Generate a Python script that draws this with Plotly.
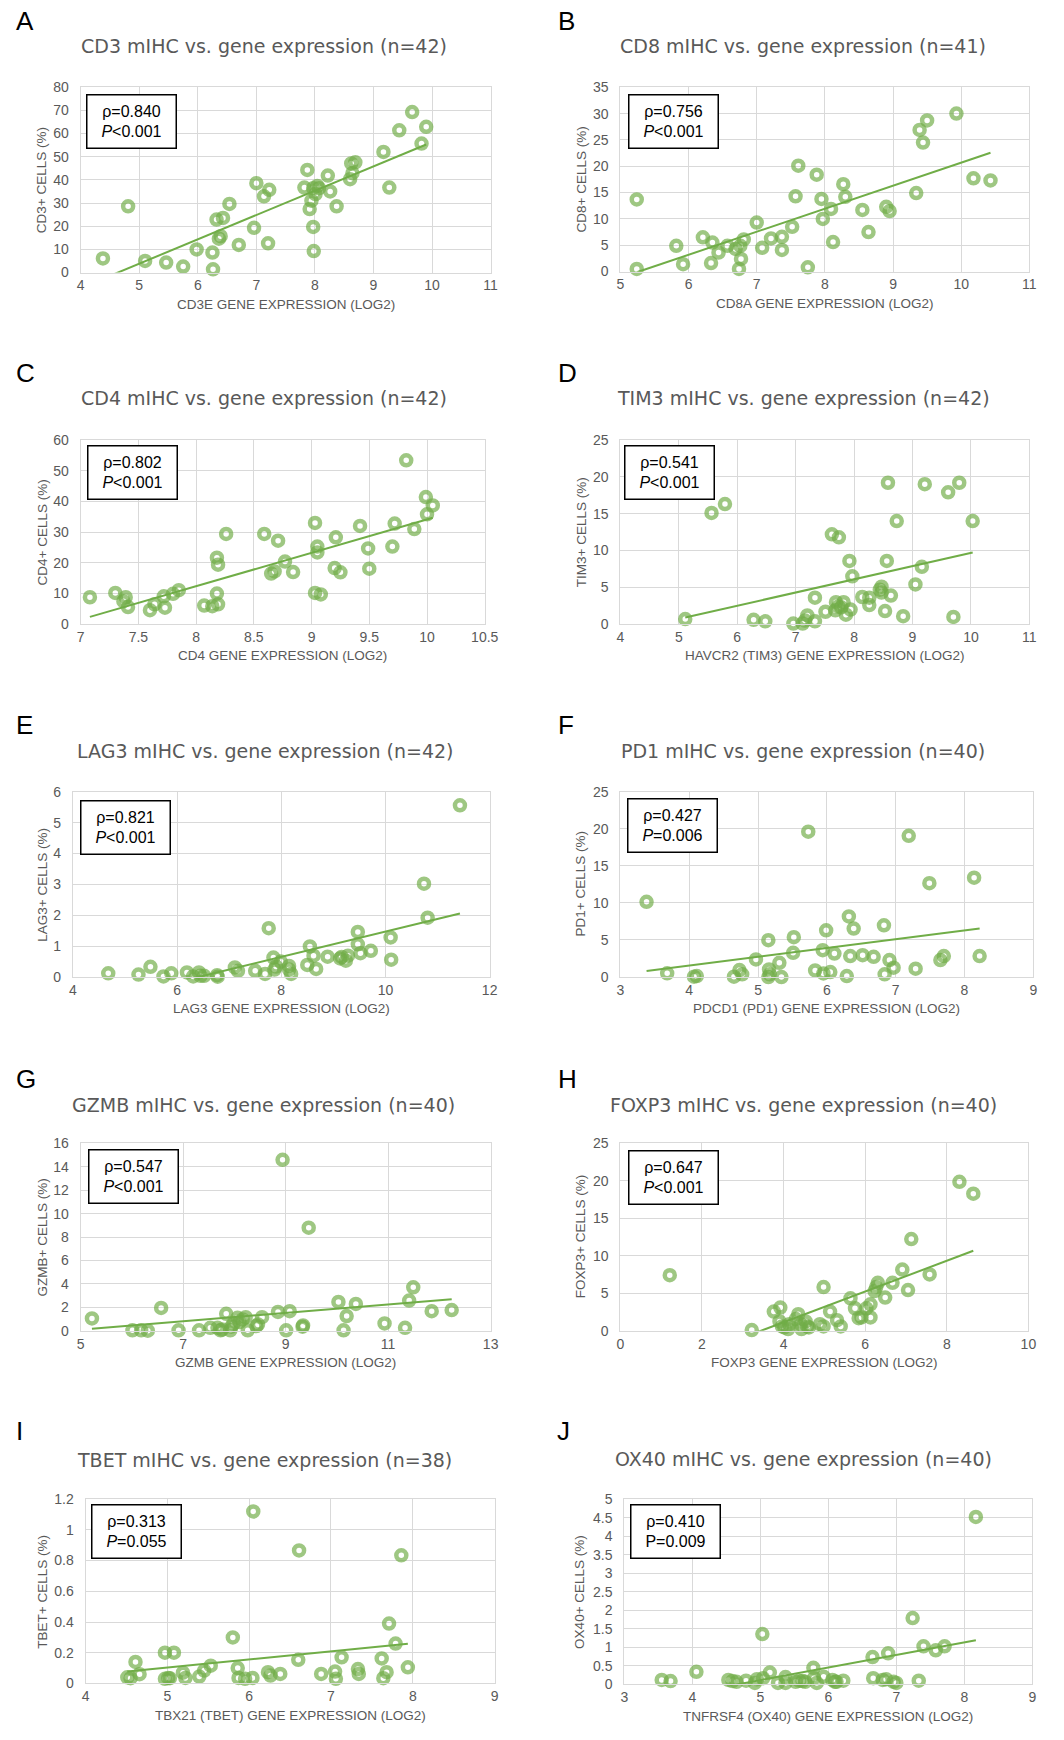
import numpy as np
import plotly.graph_objects as go

# ---------------- data: gene expression (log2) vs. mIHC positive cells (%) ----------------
cd3e_expr = [4.38, 4.81, 5.10, 5.46, 5.75, 5.98, 6.25, 6.26, 6.32, 6.43, 6.36, 6.39, 6.54, 6.70,
             6.96, 7.00, 7.13, 7.22, 7.20, 7.82, 7.87, 7.91, 7.94, 7.97, 7.97, 7.98, 8.01, 8.04,
             8.07, 8.22, 8.26, 8.37, 8.60, 8.62, 8.64, 8.69, 9.17, 9.27, 9.44, 9.66, 9.82, 9.90]
cd3_cells = [6.1, 28.6, 5.0, 4.3, 2.6, 10.0, 8.6, 1.4, 22.9, 23.6, 14.6, 15.7, 29.6, 11.9,
             19.3, 38.6, 32.9, 35.7, 12.6, 36.7, 44.3, 27.4, 31.0, 36.4, 19.7, 9.3, 33.9, 37.4,
             36.4, 41.9, 35.0, 28.6, 40.3, 47.1, 42.9, 47.6, 52.1, 36.7, 61.4, 69.3, 55.7, 62.9]

cd8a_expr = [5.24, 5.24, 5.82, 5.92, 6.21, 6.33, 6.35, 6.44, 6.57, 6.69, 6.76, 6.81, 6.77, 6.74,
             7.00, 7.08, 7.21, 7.37, 7.37, 7.52, 7.57, 7.61, 7.75, 7.88, 7.95, 7.97, 8.09, 8.12,
             8.27, 8.30, 8.55, 8.64, 8.90, 8.95, 9.34, 9.39, 9.44, 9.50, 9.93, 10.18, 10.43]
cd8_cells = [13.7, 0.5, 4.9, 1.4, 6.5, 1.6, 5.5, 3.6, 4.9, 4.3, 4.9, 6.1, 2.4, 0.5,
             9.3, 4.5, 6.3, 6.6, 4.1, 8.5, 14.3, 20.1, 0.8, 18.4, 13.8, 10.0, 11.9, 5.6,
             16.6, 14.2, 11.7, 7.5, 12.3, 11.5, 14.9, 26.9, 24.5, 28.7, 30.0, 17.7, 17.3]

cd4_expr = [7.08, 7.30, 7.39, 7.37, 7.41, 7.60, 7.64, 7.72, 7.73, 7.80, 7.85, 8.07, 8.14, 8.19,
            8.18, 8.18, 8.19, 8.26, 8.59, 8.65, 8.68, 8.71, 8.77, 8.84, 9.03, 9.03, 9.08, 9.05,
            9.05, 9.20, 9.21, 9.25, 9.42, 9.49, 9.50, 9.70, 9.72, 9.82, 9.89, 9.99, 10.00, 10.05]
cd4_cells = [8.8, 10.2, 8.8, 7.5, 5.6, 4.6, 6.5, 9.1, 5.4, 9.9, 11.1, 6.1, 5.9, 6.5,
             10.0, 21.7, 19.4, 29.4, 29.4, 16.5, 17.2, 27.2, 20.4, 17.0, 33.0, 10.2, 9.7, 25.3,
             23.4, 18.3, 28.3, 16.9, 32.0, 24.7, 18.1, 25.3, 32.8, 53.4, 31.0, 41.4, 35.8, 38.7]

havcr2_expr = [5.11, 5.56, 5.79, 6.28, 6.48, 6.96, 7.12, 7.16, 7.20, 7.33, 7.33, 7.51, 7.62, 7.74,
               7.68, 7.69, 7.73, 7.82, 7.86, 7.92, 7.94, 7.97, 8.14, 8.26, 8.26, 8.44, 8.47, 8.53,
               8.56, 8.58, 8.63, 8.73, 8.84, 9.05, 9.16, 9.21, 9.61, 9.70, 9.80, 10.03, 8.47, 7.78]
tim3_cells = [0.7, 15.1, 16.3, 0.6, 0.4, 0.1, 0.1, 0.5, 1.2, 0.4, 3.6, 1.7, 12.2, 11.8,
              1.9, 3.0, 2.4, 3.0, 1.3, 8.6, 2.0, 6.5, 3.7, 3.6, 2.6, 4.7, 5.1, 1.8,
              8.6, 19.2, 3.9, 14.0, 1.1, 5.4, 7.8, 19.0, 17.9, 1.0, 19.2, 14.0, 4.3, 2.3]

lag3_expr = [4.68, 5.26, 5.49, 5.74, 5.89, 6.19, 6.31, 6.42, 6.52, 6.77, 6.78, 7.11, 7.17, 7.50,
             7.69, 7.76, 7.85, 7.87, 7.90, 7.99, 8.15, 8.19, 8.15, 8.50, 8.55, 8.62, 8.67, 8.89,
             9.13, 9.24, 9.28, 9.47, 9.47, 9.52, 9.72, 10.10, 10.11, 10.74, 10.81, 11.43, 6.45, 9.16]
lag3_cells = [0.12, 0.08, 0.33, 0.02, 0.12, 0.15, 0.02, 0.15, 0.04, 0.06, 0.01, 0.31, 0.20, 0.20,
              0.10, 1.58, 0.63, 0.24, 0.34, 0.50, 0.36, 0.10, 0.24, 0.39, 0.99, 0.69, 0.26, 0.66,
              0.60, 0.53, 0.69, 1.46, 1.06, 0.77, 0.85, 1.28, 0.56, 3.02, 1.92, 5.56, 0.04, 0.65]

pdcd1_expr = [3.38, 3.68, 4.07, 4.11, 4.65, 4.73, 4.77, 4.97, 5.15, 5.16, 5.15, 5.31, 5.34, 5.52,
              5.51, 5.73, 5.83, 5.94, 5.95, 5.99, 6.05, 6.11, 6.29, 6.32, 6.34, 6.39, 6.52, 6.68,
              6.83, 6.84, 6.91, 6.97, 7.19, 7.29, 7.49, 7.65, 7.70, 8.14, 8.22, 5.17]
pd1_cells = [10.15, 0.5, 0.05, 0.13, 0.05, 0.94, 0.36, 2.37, 4.96, 1.03, 0.0, 1.92, 0.0, 5.37,
             3.26, 19.6, 0.89, 3.62, 0.49, 6.3, 0.67, 3.17, 0.13, 8.18, 2.82, 6.53, 2.95, 2.73,
             6.98, 0.36, 2.28, 1.25, 19.05, 1.12, 12.66, 2.28, 2.82, 13.4, 2.82, 0.36]

gzmb_expr = [5.22, 6.01, 6.18, 6.31, 6.57, 6.91, 7.31, 7.53, 7.67, 7.73, 7.84, 7.92, 7.94, 8.06,
             8.10, 8.22, 8.26, 8.43, 8.54, 8.85, 8.94, 9.01, 9.08, 9.33, 9.34, 9.45, 10.03, 10.13,
             10.19, 10.37, 10.93, 11.33, 11.41, 11.49, 11.85, 12.24, 7.76, 7.98, 8.16, 8.46]
gzmb_cells = [1.05, 0.03, 0.03, 0.0, 1.95, 0.03, 0.03, 0.25, 0.25, 0.03, 1.44, 0.03, 0.34, 1.10,
              0.74, 1.16, 0.03, 0.40, 1.16, 1.61, 14.6, 0.03, 1.67, 0.34, 0.45, 8.8, 2.46, 0.03,
              1.25, 2.29, 0.62, 0.25, 2.58, 3.71, 1.67, 1.76, 0.10, 0.60, 0.96, 0.54]

foxp3_expr = [1.21, 3.22, 3.76, 3.92, 3.90, 3.96, 4.02, 4.11, 4.36, 4.30, 4.42, 4.44, 4.54, 4.58,
              4.62, 4.89, 4.98, 4.98, 5.14, 5.31, 5.40, 5.64, 5.75, 5.84, 6.03, 6.13, 6.13, 6.27,
              6.31, 6.49, 6.67, 6.91, 7.05, 7.13, 7.58, 8.31, 8.65, 5.91, 4.14, 6.23]
foxp3_cells = [7.42, 0.09, 2.56, 3.09, 1.24, 0.57, 0.44, 0.22, 2.21, 1.55, 0.88, 0.22, 1.24, 0.57,
               0.44, 0.88, 5.83, 0.57, 2.56, 1.41, 0.57, 4.33, 3.0, 1.68, 3.0, 3.53, 1.77, 5.83,
               6.4, 4.42, 6.4, 8.17, 5.43, 12.23, 7.51, 19.88, 18.29, 1.77, 0.88, 5.3]

tbx21_expr = [4.51, 4.55, 4.61, 4.66, 4.97, 5.08, 4.97, 5.01, 5.03, 5.19, 5.22, 5.39, 5.45, 5.53,
              5.80, 5.86, 5.87, 5.95, 6.04, 6.05, 6.23, 6.26, 6.38, 6.61, 6.60, 6.88, 7.05, 7.06,
              7.13, 7.33, 7.34, 7.62, 7.64, 7.68, 7.71, 7.79, 7.86, 7.94]
tbet_cells = [0.04, 0.034, 0.14, 0.06, 0.20, 0.20, 0.03, 0.036, 0.034, 0.07, 0.036, 0.045, 0.084, 0.116,
              0.30, 0.10, 0.036, 0.03, 0.036, 1.12, 0.073, 0.051, 0.062, 0.866, 0.154, 0.062, 0.077, 0.03,
              0.17, 0.094, 0.062, 0.163, 0.034, 0.073, 0.39, 0.26, 0.834, 0.105]

tnfrsf4_expr = [3.55, 3.68, 4.06, 4.53, 4.65, 4.79, 4.92, 5.03, 5.04, 5.14, 5.26, 5.37, 5.37, 5.52,
                5.62, 5.66, 5.78, 5.79, 5.83, 5.93, 6.06, 6.12, 6.22, 6.65, 6.66, 6.80, 6.88, 6.96,
                7.00, 7.24, 7.33, 7.40, 7.58, 7.71, 8.17, 4.59, 4.95, 5.57, 6.10, 6.85]
ox40_cells = [0.12, 0.09, 0.34, 0.12, 0.07, 0.10, 0.04, 1.36, 0.17, 0.32, 0.04, 0.20, 0.04, 0.07,
              0.09, 0.07, 0.45, 0.17, 0.04, 0.21, 0.12, 0.07, 0.10, 0.74, 0.17, 0.12, 0.84, 0.07,
              0.04, 1.79, 0.10, 1.03, 0.92, 1.03, 4.52, 0.09, 0.14, 0.10, 0.07, 0.14]

panel_letters = ["A", "B", "C", "D", "E", "F", "G", "H", "I", "J"]
panel_titles = ["CD3 mIHC vs. gene expression (n=42)", "CD8 mIHC vs. gene expression (n=41)",
                "CD4 mIHC vs. gene expression (n=42)", "TIM3 mIHC vs. gene expression (n=42)",
                "LAG3 mIHC vs. gene expression (n=42)", "PD1 mIHC vs. gene expression (n=40)",
                "GZMB mIHC vs. gene expression (n=40)", "FOXP3 mIHC vs. gene expression (n=40)",
                "TBET mIHC vs. gene expression (n=38)", "OX40 mIHC vs. gene expression (n=40)"]
x_titles = ["CD3E GENE EXPRESSION (LOG2)", "CD8A GENE EXPRESSION (LOG2)", "CD4 GENE EXPRESSION (LOG2)",
            "HAVCR2 (TIM3) GENE EXPRESSION (LOG2)", "LAG3 GENE EXPRESSION (LOG2)",
            "PDCD1 (PD1) GENE EXPRESSION (LOG2)", "GZMB GENE EXPRESSION (LOG2)",
            "FOXP3 GENE EXPRESSION (LOG2)", "TBX21 (TBET) GENE EXPRESSION (LOG2)",
            "TNFRSF4 (OX40) GENE EXPRESSION (LOG2)"]
y_titles = ["CD3+ CELLS (%)", "CD8+ CELLS (%)", "CD4+ CELLS (%)", "TIM3+ CELLS (%)", "LAG3+ CELLS (%)",
            "PD1+ CELLS (%)", "GZMB+ CELLS (%)", "FOXP3+ CELLS (%)", "TBET+ CELLS (%)", "OX40+ CELLS (%)"]
rho_values = ["0.840", "0.756", "0.802", "0.541", "0.821", "0.427", "0.547", "0.647", "0.313", "0.410"]
p_values = ["<0.001", "<0.001", "<0.001", "<0.001", "<0.001", "=0.006", "<0.001", "<0.001", "=0.055", "=0.009"]
p_italic = [True, True, True, True, True, True, True, True, True, False]

x_ranges = [(4, 11), (5, 11), (7, 10.5), (4, 11), (4, 12), (3, 9), (5, 13), (0, 10), (4, 9), (3, 9)]
x_steps = [1, 1, 0.5, 1, 2, 1, 2, 2, 1, 1]
y_ranges = [(0, 80), (0, 35), (0, 60), (0, 25), (0, 6), (0, 25), (0, 16), (0, 25), (0, 1.2), (0, 5)]
y_steps = [10, 5, 10, 5, 1, 5, 2, 5, 0.2, 0.5]

series_x = [cd3e_expr, cd8a_expr, cd4_expr, havcr2_expr, lag3_expr,
            pdcd1_expr, gzmb_expr, foxp3_expr, tbx21_expr, tnfrsf4_expr]
series_y = [cd3_cells, cd8_cells, cd4_cells, tim3_cells, lag3_cells,
            pd1_cells, gzmb_cells, foxp3_cells, tbet_cells, ox40_cells]

# ---------------- page geometry (pixels) ----------------
W, H = 1064, 1740
# plot areas: left, right, top, bottom
plot_boxes = [(78, 495, 80, 267), (627, 1043, 80, 266),
              (78, 489, 436, 622), (627, 1043, 436, 622),
              (70, 494, 791, 978), (627, 1047, 791, 978),
              (78, 495, 1146, 1335), (627, 1042, 1146, 1335),
              (83, 499, 1505, 1691), (631, 1046, 1505, 1692)]
title_centers = [(264, 38), (813, 38), (264, 394), (813, 394), (265, 750),
                 (813, 750), (264, 1107), (813, 1107), (265, 1465), (813, 1464)]
letter_pos = [(10, 13), (561, 13), (10, 368), (561, 368), (10, 724),
              (561, 724), (10, 1081), (561, 1081), (10, 1436), (560, 1436)]
stat_boxes = [(83, 87), (635, 87), (84, 441), (631, 441), (77, 799),
              (634, 797), (85, 1152), (635, 1153), (89, 1510), (637, 1510)]
ytitle_x = [39, 587, 39, 587, 39, 586, 39, 586, 39, 586]

GREY_TEXT = "#595959"
GRID = "#d9d9d9"
GREEN = "rgb(112,173,71)"
RING = "rgba(112,173,71,0.68)"
FONT = "Liberation Sans, Arial, sans-serif"


def px_x(v):
    return v / W


def px_y(v):
    return 1 - v / H


fig = go.Figure()
annotations = []
layout_axes = {}

for i in range(10):
    k = "" if i == 0 else str(i + 1)
    xa, ya = "x" + k, "y" + k
    x = np.array(series_x[i], dtype=float)
    y = np.array(series_y[i], dtype=float)

    fig.add_trace(go.Scatter(
        x=x, y=y, xaxis=xa, yaxis=ya, mode="markers", cliponaxis=False,
        marker=dict(symbol="circle-open", size=10, color=RING, line=dict(width=4.5, color=RING)),
        showlegend=False, hoverinfo="x+y"))

    # least-squares linear trend across the observed expression range
    slope, intercept = np.polyfit(x, y, 1)
    tx = np.array([x.min(), x.max()])
    fig.add_trace(go.Scatter(
        x=tx, y=slope * tx + intercept, xaxis=xa, yaxis=ya, mode="lines",
        line=dict(color=GREEN, width=2), showlegend=False, hoverinfo="skip"))

    l, r, t, b = plot_boxes[i]
    common = dict(showgrid=True, gridcolor=GRID, gridwidth=1, zeroline=False,
                  showline=True, linecolor=GRID, linewidth=1, mirror=True,
                  ticks="", tickfont=dict(family=FONT, size=14, color=GREY_TEXT),
                  fixedrange=True)
    layout_axes["xaxis" + k] = dict(common, domain=[px_x(l), px_x(r)], anchor=ya,
                                    ticklabelstandoff=0,
                                    range=list(x_ranges[i]), tick0=x_ranges[i][0], dtick=x_steps[i])
    layout_axes["yaxis" + k] = dict(common, domain=[px_y(b), px_y(t)], anchor=xa,
                                    ticklabelstandoff=8,
                                    range=list(y_ranges[i]), tick0=0, dtick=y_steps[i])

    # panel letter
    annotations.append(dict(text=panel_letters[i], x=px_x(letter_pos[i][0]), y=px_y(letter_pos[i][1]),
                            xref="paper", yref="paper", xanchor="left", yanchor="middle",
                            showarrow=False, font=dict(family=FONT, size=26, color="black")))
    # chart title
    annotations.append(dict(text=panel_titles[i], x=px_x(title_centers[i][0]), y=px_y(title_centers[i][1]),
                            xref="paper", yref="paper", xanchor="center", yanchor="middle",
                            showarrow=False, font=dict(family="DejaVu Sans, sans-serif", size=19,
                                                       color=GREY_TEXT)))
    # axis titles
    annotations.append(dict(text=x_titles[i], x=px_x((l + r) / 2), y=px_y(b + 32),
                            xref="paper", yref="paper", xanchor="center", yanchor="middle",
                            showarrow=False, font=dict(family=FONT, size=13.5, color=GREY_TEXT)))
    annotations.append(dict(text=y_titles[i], x=px_x(ytitle_x[i]), y=px_y((t + b) / 2),
                            xref="paper", yref="paper", xanchor="center", yanchor="middle",
                            textangle=-90, showarrow=False,
                            font=dict(family=FONT, size=13.5, color=GREY_TEXT)))
    # correlation box
    p_lab = "<i>P</i>" if p_italic[i] else "P"
    stat_text = "ρ=" + rho_values[i] + "<br>" + p_lab + p_values[i].replace("<", "&lt;")
    annotations.append(dict(text=stat_text, x=px_x(stat_boxes[i][0]), y=px_y(stat_boxes[i][1]),
                            xref="paper", yref="paper", xanchor="left", yanchor="top",
                            showarrow=False, align="center", valign="middle",
                            width=86, height=50, borderpad=1, borderwidth=1.5,
                            bordercolor="black", bgcolor="white",
                            font=dict(family=FONT, size=16, color="black")))

fig.update_layout(
    width=W, height=H, margin=dict(l=0, r=0, t=0, b=0),
    paper_bgcolor="white", plot_bgcolor="white",
    annotations=annotations, **layout_axes)

fig.write_html("out.html")
